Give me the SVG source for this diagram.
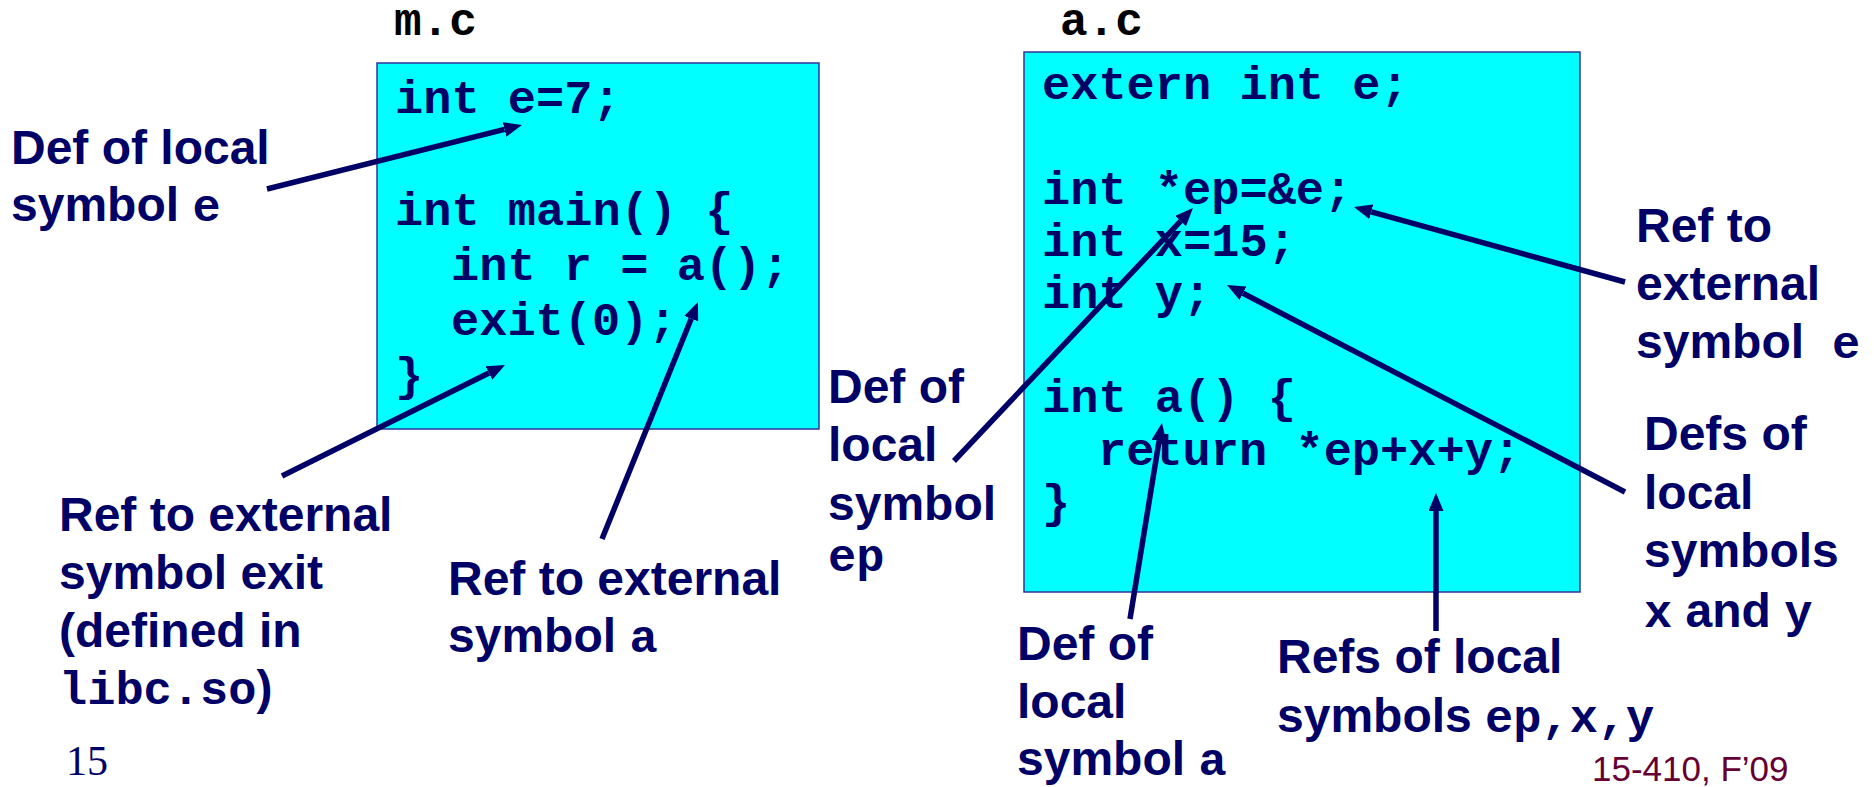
<svg xmlns="http://www.w3.org/2000/svg" width="1874" height="787" viewBox="0 0 1874 787">
<style>
.lbl{font-family:"Liberation Sans",Arial,sans-serif;font-weight:bold;font-size:48px;fill:#000066}
.mono{font-family:"Liberation Mono","Courier New",monospace;font-weight:bold;font-size:47px}
.code{font-family:"Liberation Mono","Courier New",monospace;font-weight:bold;font-size:47px;fill:#000066}
.title{font-family:"Liberation Mono","Courier New",monospace;font-weight:bold;font-size:46px;fill:#000000}
.box{fill:#00FFFF;stroke:#333399;stroke-width:1.5}
.arr{stroke:#000066;stroke-width:5.5;fill:none;marker-end:url(#ah)}
</style>
<defs>
<marker id="ah" markerUnits="userSpaceOnUse" viewBox="0 0 18 15" refX="0" refY="7.5" markerWidth="18" markerHeight="15" orient="auto">
<path d="M0,0 L18,7.5 L0,15 z" fill="#000066"/>
</marker>
</defs>
<rect width="1874" height="787" fill="#ffffff"/>
<g id="mc">
<text class="title" x="394" y="35">m.c</text>
<rect class="box" x="377" y="63" width="442" height="366"/>
<text class="code" x="395" y="113">int e=7;</text>
<text class="code" x="395" y="225">int main() {</text>
<text class="code" x="451" y="280">int r = a();</text>
<text class="code" x="451" y="335">exit(0);</text>
<text class="code" x="395" y="390">}</text>
</g>
<g id="ac">
<text class="title" x="1060" y="35">a.c</text>
<rect class="box" x="1024" y="52" width="556" height="540"/>
<text class="code" x="1042" y="99">extern int e;</text>
<text class="code" x="1042" y="204">int *ep=&amp;e;</text>
<text class="code" x="1042" y="256">int x=15;</text>
<text class="code" x="1042" y="308">int y;</text>
<text class="code" x="1042" y="412">int a() {</text>
<text class="code" x="1098" y="465">return *ep+x+y;</text>
<text class="code" x="1042" y="517">}</text>
</g>
<g id="label-def-e">
<text class="lbl" x="11" y="164">Def of local</text>
<text class="lbl" x="11" y="221">symbol <tspan class="mono">e</tspan></text>
</g>
<g id="label-ref-exit">
<text class="lbl" x="59" y="531">Ref to external</text>
<text class="lbl" x="59" y="589">symbol exit</text>
<text class="lbl" x="59" y="647">(defined in</text>
<text class="lbl" x="59" y="704"><tspan class="mono">libc.so</tspan>)</text>
</g>
<g id="label-ref-a">
<text class="lbl" x="448" y="595">Ref to external</text>
<text class="lbl" x="448" y="652">symbol <tspan class="mono">a</tspan></text>
</g>
<g id="label-def-ep">
<text class="lbl" x="828" y="403">Def of</text>
<text class="lbl" x="828" y="461">local</text>
<text class="lbl" x="828" y="520">symbol</text>
<text class="lbl" x="828" y="571"><tspan class="mono">ep</tspan></text>
</g>
<g id="label-ref-e">
<text class="lbl" x="1636" y="242">Ref to</text>
<text class="lbl" x="1636" y="300">external</text>
<text class="lbl" x="1636" y="358">symbol<tspan class="mono" x="1832">e</tspan></text>
</g>
<g id="label-defs-xy">
<text class="lbl" x="1644" y="450">Defs of</text>
<text class="lbl" x="1644" y="509">local</text>
<text class="lbl" x="1644" y="567">symbols</text>
<text class="lbl" x="1644" y="627"><tspan class="mono">x</tspan> and <tspan class="mono">y</tspan></text>
</g>
<g id="label-def-a">
<text class="lbl" x="1017" y="660">Def of</text>
<text class="lbl" x="1017" y="718">local</text>
<text class="lbl" x="1017" y="775">symbol <tspan class="mono">a</tspan></text>
</g>
<g id="label-refs-local">
<text class="lbl" x="1277" y="673">Refs of local</text>
<text class="lbl" x="1277" y="732">symbols <tspan class="mono">ep,x,y</tspan></text>
</g>
<g id="footer">
<text x="66" y="775" style="font-family:'Liberation Serif','Times New Roman',serif;font-size:42px;fill:#000066">15</text>
<text x="1592" y="781" style="font-family:'Liberation Sans',Arial,sans-serif;font-size:35px;fill:#660033">15-410, F’09</text>
</g>
<g id="connectors">
<line class="arr" x1="267" y1="189" x2="504.5" y2="129.4"/>
<line class="arr" x1="282" y1="476" x2="488.9" y2="373"/>
<line class="arr" x1="602" y1="539" x2="691.2" y2="318.7"/>
<line class="arr" x1="954" y1="461" x2="1180.6" y2="221.1"/>
<line class="arr" x1="1625" y1="282" x2="1371.3" y2="211.8"/>
<line class="arr" x1="1625" y1="492" x2="1243" y2="293.3"/>
<line class="arr" x1="1130" y1="619" x2="1159.1" y2="440.8"/>
<line class="arr" x1="1436" y1="631" x2="1436" y2="511"/>
</g>
</svg>
